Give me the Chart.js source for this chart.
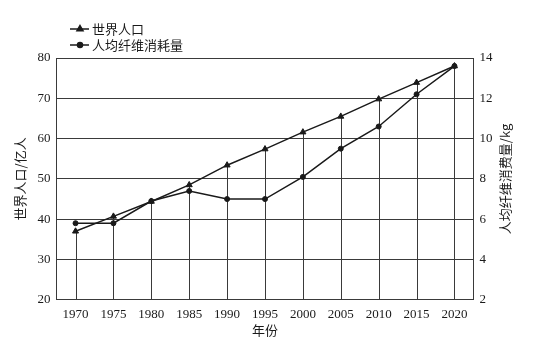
<!DOCTYPE html>
<html><head><meta charset="utf-8">
<script src="https://cdn.jsdelivr.net/npm/chart.js@4/dist/chart.umd.min.js"></script>
<style>
html,body{margin:0;padding:0;background:#fff}
#wrap{width:540px;height:346px;position:relative}
</style>
</head><body>
<div id="wrap"><canvas id="c"></canvas></div>
<script>
// 年份
const years = ['1970','1975','1980','1985','1990','1995','2000','2005','2010','2015','2020'];
// 世界人口（亿人）
const population = [37.0, 40.7, 44.4, 48.5, 53.4, 57.4, 61.6, 65.5, 69.8, 73.9, 78.0];
// 人均纤维消耗量（kg）
const fiberPerCapita = [5.8, 5.8, 6.9, 7.4, 7.0, 7.0, 8.1, 9.5, 10.6, 12.2, 13.6];

const seriesNames = ['世界人口', '人均纤维消耗量'];
const axisTitles = { x: '年份', left: '世界人口/亿人', right: '人均纤维消费量/kg' };

const INK = '#1a1a1a';
const GRID = '#3a3a3a';
const NUM_FONT = "'Liberation Serif', 'DejaVu Serif', serif";
const CJK_FONT = "'Noto Sans CJK SC', 'Liberation Serif', serif";

// drop lines from each population point down to the x axis
const dropLines = {
  id: 'dropLines',
  beforeDatasetsDraw(chart) {
    const { ctx, chartArea, scales } = chart;
    ctx.save();
    ctx.strokeStyle = GRID;
    ctx.lineWidth = 1;
    population.forEach((v, i) => {
      const x = Math.round(scales.x.getPixelForValue(i)) + 0.5;
      const y = scales.yL.getPixelForValue(v);
      ctx.beginPath();
      ctx.moveTo(x, chartArea.bottom);
      ctx.lineTo(x, y);
      ctx.stroke();
    });
    ctx.restore();
  }
};

// stacked legend at the upper left, plus the right-hand axis title
const extras = {
  id: 'extras',
  afterDraw(chart) {
    const { ctx, chartArea } = chart;
    ctx.save();
    chart.data.datasets.forEach((ds, i) => {
      const y = 29 + i * 16;
      ctx.strokeStyle = INK;
      ctx.lineWidth = 1.5;
      ctx.beginPath();
      ctx.moveTo(70, y);
      ctx.lineTo(89, y);
      ctx.stroke();
      ctx.fillStyle = INK;
      Chart.helpers.drawPoint(ctx, {
        pointStyle: ds.pointStyle, radius: ds.pointRadius, rotation: 0, borderWidth: 1
      }, 80, y);
      ctx.fillStyle = INK;
      ctx.font = "13px " + CJK_FONT;
      ctx.textBaseline = 'middle';
      ctx.textAlign = 'left';
      ctx.fillText(ds.label, 92, y);
    });
    // right axis title, reading bottom to top
    ctx.translate(chartArea.right + 32, (chartArea.top + chartArea.bottom) / 2);
    ctx.rotate(-Math.PI / 2);
    ctx.font = "13px " + CJK_FONT;
    ctx.textAlign = 'center';
    ctx.textBaseline = 'middle';
    ctx.fillStyle = INK;
    ctx.fillText(axisTitles.right, 0, 0);
    ctx.restore();
  }
};

new Chart(document.getElementById('c'), {
  type: 'line',
  data: {
    labels: years,
    datasets: [
      {
        label: seriesNames[0], data: population, yAxisID: 'yL',
        borderColor: INK, backgroundColor: INK, borderWidth: 1.5,
        pointStyle: 'triangle', pointRadius: 3.5, pointBorderWidth: 1, tension: 0
      },
      {
        label: seriesNames[1], data: fiberPerCapita, yAxisID: 'yR',
        borderColor: INK, backgroundColor: INK, borderWidth: 1.5,
        pointStyle: 'circle', pointRadius: 2.5, pointBorderWidth: 1, tension: 0
      }
    ]
  },
  options: {
    responsive: true,
    maintainAspectRatio: false,
    animation: false,
    layout: { padding: { top: 58, left: 8, right: 14, bottom: 0 } },
    plugins: { legend: { display: false }, tooltip: { enabled: false } },
    scales: {
      x: {
        offset: true,
        grid: { display: false, drawTicks: false },
        border: { display: true, color: GRID, width: 1 },
        ticks: { color: INK, font: { family: NUM_FONT, size: 13 }, padding: 7, maxRotation: 0 },
        title: { display: true, text: axisTitles.x, color: INK, font: { family: CJK_FONT, size: 13 }, padding: { top: -7, bottom: 8 } }
      },
      yL: {
        position: 'left', min: 20, max: 80,
        ticks: { stepSize: 10, color: INK, font: { family: NUM_FONT, size: 13 }, padding: 6 },
        grid: { color: GRID, lineWidth: 1, drawTicks: false },
        border: { display: true, color: GRID, width: 1 },
        title: { display: true, text: axisTitles.left, color: INK, font: { family: CJK_FONT, size: 13 }, padding: { bottom: 4 } }
      },
      yR: {
        position: 'right', min: 2, max: 14,
        ticks: { stepSize: 2, color: INK, font: { family: NUM_FONT, size: 13 }, padding: 6 },
        grid: { display: false, drawTicks: false },
        border: { display: true, color: GRID, width: 1 },
        title: { display: true, text: axisTitles.right, color: 'rgba(0,0,0,0)', font: { family: CJK_FONT, size: 13 }, padding: { top: 8 } }
      }
    }
  },
  plugins: [dropLines, extras]
});
</script>
</body></html>
